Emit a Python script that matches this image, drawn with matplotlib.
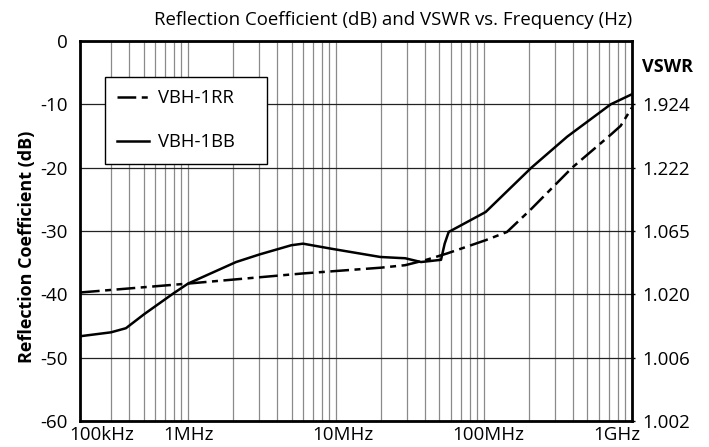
import matplotlib
matplotlib.use("Agg")
import matplotlib.pyplot as plt
from matplotlib.patches import Rectangle
from matplotlib.ticker import FixedLocator, NullFormatter
import matplotlib.transforms as mtransforms

plt.rcParams['font.family'] = ['Open Sans', 'DejaVu Sans']

# ---- data ----
freq_bb = [1.887e5, 3.01e5, 3.8e5, 5.07e5, 7.96e5, 1.0e6, 2.11e6, 3.04e6, 4.98e6,
           5.98e6, 9.3e6, 1.99e7, 2.63e7, 2.93e7, 3.75e7, 5.12e7, 5.42e7, 5.77e7,
           1.026e8, 2.09e8, 3.65e8, 7.18e8, 1.0e9]
db_bb = [-46.6, -46.0, -45.35, -43.1, -39.85, -38.3, -34.9, -33.7, -32.25,
         -32.0, -32.8, -34.1, -34.25, -34.3, -34.9, -34.55, -32.0, -30.15,
         -27.0, -20.0, -15.1, -10.0, -8.4]

freq_rr = [1.887e5, 1.0e6, 5.98e6, 1.99e7, 2.93e7, 4.01e7, 5.62e7, 1.026e8,
           1.43e8, 2.09e8, 3.94e8, 7.18e8, 8.38e8, 1.0e9]
db_rr = [-39.7, -38.3, -36.7, -35.8, -35.4, -34.6, -33.55, -31.45,
         -30.15, -26.5, -20.0, -14.8, -13.4, -10.5]

series_labels = ["VBH-1RR", "VBH-1BB"]
x_tick_vals = [1.86e5, 1e6, 1e7, 1e8, 1e9]
x_tick_labels = ["100kHz", "1MHz", "10MHz", "100MHz", "1GHz"]
db_ticks = [-60, -50, -40, -30, -20, -10, 0]
vswr_ticks = [-60, -50, -40, -30, -20, -10]
vswr_labels = ["1.002", "1.006", "1.020", "1.065", "1.222", "1.924"]

W, H = 709, 447
AX_L, AX_R, AX_T, AX_B = 80, 632, 41, 421
AW, AH = AX_R - AX_L, AX_B - AX_T
fig = plt.figure(figsize=(W / 100, H / 100), dpi=100)
ax = fig.add_axes([AX_L / W, 1 - AX_B / H, AW / W, AH / H])
ax.set_xscale('log')
ax.set_xlim(x_tick_vals[0], x_tick_vals[-1])
ax.set_ylim(-60, 0)

TICK_FS = 13.5

# grid
minor = [m * 10 ** e for e in range(5, 9) for m in range(2, 10) if m * 10 ** e > 2.5e5]
ax.xaxis.set_minor_locator(FixedLocator(minor))
ax.xaxis.set_minor_formatter(NullFormatter())
ax.set_xticks(x_tick_vals)
ax.set_xticklabels(x_tick_labels)
ax.grid(which='both', axis='x', color='#8a8a8a', lw=0.9, zorder=1)
ax.set_yticks(db_ticks)
ax.set_yticklabels([str(v) for v in db_ticks])
ax.grid(which='major', axis='y', color='#222222', lw=0.9, zorder=1)
ax.set_axisbelow(True)

ax.tick_params(axis='x', which='both', length=0, labelsize=TICK_FS, pad=3.5)
ax.tick_params(axis='y', which='both', length=0, labelsize=TICK_FS, pad=9)

# nudge end labels like the reference
offsets_px = [22, 0, 7, 4, -15]
for lab, dx in zip(ax.get_xticklabels(), offsets_px):
    lab.set_transform(lab.get_transform() + mtransforms.ScaledTranslation(dx / 100, 0, fig.dpi_scale_trans))

for s in ax.spines.values():
    s.set_linewidth(2.0)
    s.set_color('black')

# curves
ax.plot(freq_rr, db_rr, color='black', lw=1.8, linestyle=(0, (7.5, 2.2, 2.4, 2.2)),
        label=series_labels[0], zorder=3)
ax.plot(freq_bb, db_bb, color='black', lw=1.8, linestyle='-', label=series_labels[1], zorder=3)

ax.set_ylabel("Reflection Coefficient (dB)", fontsize=13, fontweight='bold')
ax.yaxis.set_label_coords((36 - AX_L) / AW, (AX_B - 247) / AH)

# right VSWR axis
ax2 = ax.twinx()
ax2.set_ylim(-60, 0)
ax2.set_yticks(vswr_ticks)
ax2.set_yticklabels(vswr_labels)
ax2.tick_params(axis='y', direction='out', length=2.5, width=1, labelsize=TICK_FS, pad=5)
for s in ax2.spines.values():
    s.set_visible(False)
ax2.text(1 + (642 - AX_R) / AW, (AX_B - 67) / AH, "VSWR", transform=ax.transAxes,
         fontsize=13, fontweight='bold', ha='left', va='center')

# legend with a fixed box
rect = Rectangle(((105 - AX_L) / AW, (AX_B - 164) / AH), 162 / AW, 87 / AH,
                 transform=ax.transAxes, facecolor='white', edgecolor='black', lw=1.0, zorder=4)
ax.add_patch(rect)
leg = ax.legend(loc='upper left', bbox_to_anchor=((117 - AX_L) / AW, (AX_B - 89) / AH),
                borderaxespad=0, frameon=False, fontsize=13.3, handlelength=1.75,
                handletextpad=0.45, labelspacing=1.42, borderpad=0)
leg.set_zorder(5)

fig.text(AX_R / W, 1 - 20 / H, "Reflection Coefficient (dB) and VSWR vs. Frequency (Hz)",
         ha='right', va='center', fontsize=13.4)

fig.savefig("out.png", dpi=100)
